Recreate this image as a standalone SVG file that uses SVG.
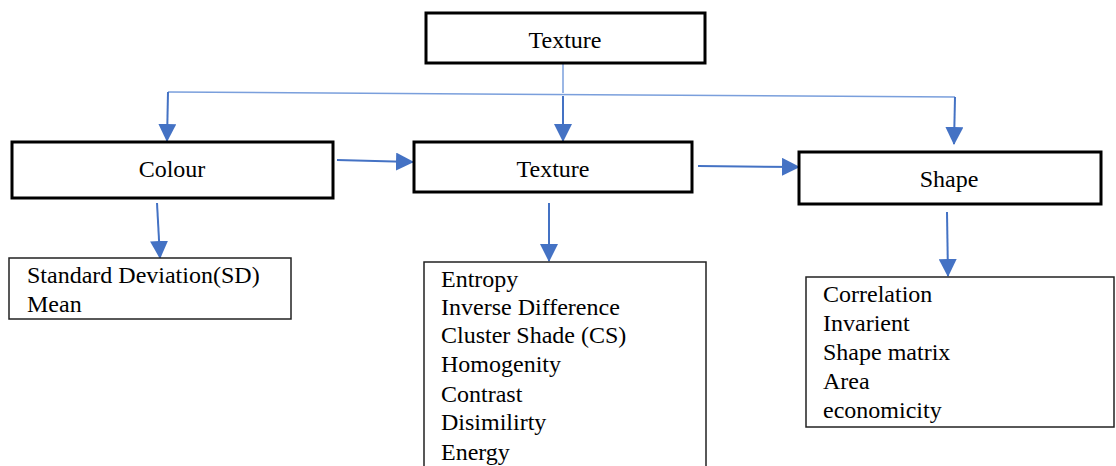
<svg xmlns="http://www.w3.org/2000/svg" width="1116" height="466" viewBox="0 0 1116 466">
<style>
.main{fill:#fff;stroke:#000;stroke-width:3}
.list{fill:#fff;stroke:#222;stroke-width:1.5}
.t{font-family:'Liberation Serif','Times New Roman',Times,serif;font-size:24px;fill:#000}
.c{text-anchor:middle}
.conn{fill:none;stroke:#4472C4;stroke-width:2}
.thin{fill:none;stroke:#7a9fdc;stroke-width:1.5}
</style>
<defs>
<marker id="ah" markerUnits="userSpaceOnUse" markerWidth="18" markerHeight="18" refX="17" refY="9" orient="auto">
<path d="M0,0 L18,9 L0,18 z" fill="#4472C4"/>
</marker>
</defs>
<g id="connectors">
<path class="thin" d="M563,63 L563,93"/>
<path class="thin" d="M168,92 L955,97"/>
<path class="conn" d="M168,92 L167,141" marker-end="url(#ah)"/>
<path class="conn" d="M563,96 L563,141" marker-end="url(#ah)"/>
<path class="conn" d="M955,97 L954,144" marker-end="url(#ah)"/>
<path class="conn" d="M337,160 L413,162" marker-end="url(#ah)"/>
<path class="conn" d="M698,166 L799,167" marker-end="url(#ah)"/>
<path class="conn" d="M157,203 L160,258" marker-end="url(#ah)"/>
<path class="conn" d="M549,203 L549,261" marker-end="url(#ah)"/>
<path class="conn" d="M947,212 L948,276" marker-end="url(#ah)"/>
</g>
<g id="top-texture">
<rect class="main" x="426" y="13" width="279" height="50"/>
<text class="t c" x="565" y="48" font-family="Liberation Serif, serif">Texture</text>
</g>
<g id="colour">
<rect class="main" x="12" y="142" width="321" height="56"/>
<text class="t c" x="172" y="177" font-family="Liberation Serif, serif">Colour</text>
</g>
<g id="texture">
<rect class="main" x="414" y="142" width="278" height="50"/>
<text class="t c" x="553" y="177" font-family="Liberation Serif, serif">Texture</text>
</g>
<g id="shape">
<rect class="main" x="799" y="152" width="302" height="52"/>
<text class="t c" x="949" y="187" font-family="Liberation Serif, serif">Shape</text>
</g>
<g id="colour-features" font-family="Liberation Serif, serif">
<rect class="list" x="9" y="258" width="282" height="61"/>
<text class="t" x="27" y="283">Standard Deviation(SD)</text>
<text class="t" x="27" y="312">Mean</text>
</g>
<g id="texture-features">
<rect class="list" x="424" y="262" width="282" height="220"/>
<text class="t" x="441" y="287">Entropy</text>
<text class="t" x="441" y="315">Inverse Difference</text>
<text class="t" x="441" y="343">Cluster Shade (CS)</text>
<text class="t" x="441" y="372">Homogenity</text>
<text class="t" x="441" y="402">Contrast</text>
<text class="t" x="441" y="430">Disimilirty</text>
<text class="t" x="441" y="460">Energy</text>
</g>
<g id="shape-features">
<rect class="list" x="806" y="277" width="308" height="150"/>
<text class="t" x="823" y="302">Correlation</text>
<text class="t" x="823" y="331">Invarient</text>
<text class="t" x="823" y="360">Shape matrix</text>
<text class="t" x="823" y="389">Area</text>
<text class="t" x="823" y="418">economicity</text>
</g>
</svg>
